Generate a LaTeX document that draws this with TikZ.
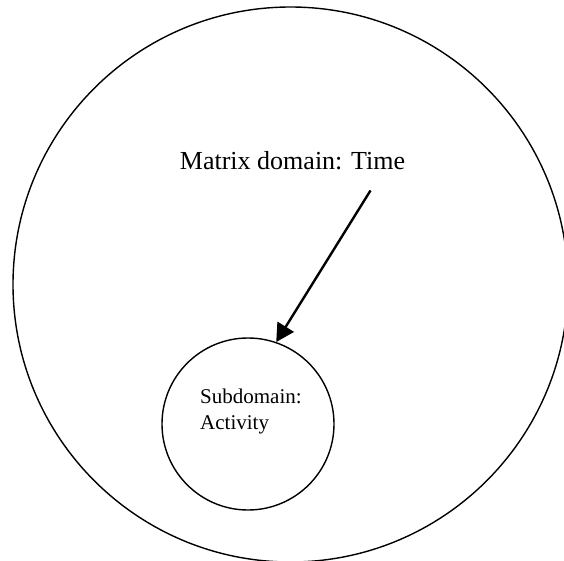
\documentclass[tikz,border=0pt]{standalone}
\usepackage{fontspec}
\setmainfont{Liberation Serif}
\usetikzlibrary{arrows.meta,positioning}

\begin{document}
\begin{tikzpicture}[
  x=1pt, y=-1pt,
  ring/.style={circle, draw, line width=1.4pt, minimum size=#1, inner sep=0pt},
  ring/.default={172pt},
  txt/.style={font=\fontsize{#1}{25.5}\selectfont, inner sep=0pt},
  arrow/.style={-{Triangle[length=18pt, width=19pt]}, line width=2.4pt}
]
  \useasboundingbox (0,0) rectangle (564,561);

  % Matrix domain
  \node[ring=555pt] (matrix) at (290.5,284.5) {};
  \node[txt=26, anchor=base] (mtitle) at (292.5,169.5) {Matrix domain: Time};

  % Subdomain
  \node[ring] (sub) at (248,424) {};
  \node[txt=21, align=left, anchor=north west] (stitle) at (200,389) {Subdomain:\\Activity};

  % Arrow
  \coordinate (tail) at (370.5,190.5);
  \draw[arrow] (tail) -- (sub.71);
\end{tikzpicture}
\end{document}
